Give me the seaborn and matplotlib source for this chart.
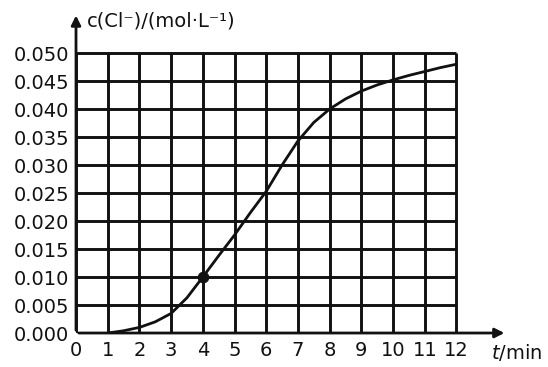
import numpy as np
import pandas as pd
import matplotlib
matplotlib.use("Agg")
import matplotlib.pyplot as plt
import seaborn as sns

# values
t_min = [1, 1.5, 2, 2.5, 3, 3.5, 4, 4.5, 5, 5.5, 6, 6.5, 7, 7.5, 8, 8.5, 9, 9.5, 10, 10.5, 11, 11.5, 12]
c_cl = [0.0, 0.0004, 0.001, 0.002, 0.0035, 0.0063, 0.010, 0.0138, 0.0175, 0.0215, 0.0253, 0.030, 0.0343,
        0.0376, 0.040, 0.0418, 0.0432, 0.0443, 0.0452, 0.046, 0.0467, 0.0474, 0.048]
dot_t = [4]
dot_c = [0.010]
x_ticks = list(range(13))
y_ticks = [0.000, 0.005, 0.010, 0.015, 0.020, 0.025, 0.030, 0.035, 0.040, 0.045, 0.050]

curve = pd.DataFrame({"t": t_min, "c": c_cl})
dot = pd.DataFrame({"t": dot_t, "c": dot_c})

sns.set_style("white")
plt.rcParams['font.family'] = ['DejaVu Sans']

fig = plt.figure(figsize=(5.48, 3.67), dpi=100)
ax = fig.add_axes([0.1387, 0.0926, 0.81, 0.9003])
ax.set_xlim(0, 14)
ax.set_ylim(0, 0.059)

ink = "#111111"
# grid drawn only inside the 0-12 / 0-0.05 box
ax.vlines(x_ticks, 0, y_ticks[-1], color=ink, lw=2.1, zorder=2)
ax.hlines(y_ticks, 0, x_ticks[-1], color=ink, lw=2.1, zorder=2)

# axis arrows
ax.annotate("", xy=(0, 0.0572), xytext=(0, 0), annotation_clip=False,
            arrowprops=dict(arrowstyle="-|>", color=ink, lw=2.0, mutation_scale=14), zorder=3)
ax.annotate("", xy=(13.6, 0), xytext=(0, 0), annotation_clip=False,
            arrowprops=dict(arrowstyle="-|>", color=ink, lw=2.0, mutation_scale=14), zorder=3)

sns.lineplot(data=curve, x="t", y="c", ax=ax, color=ink, lw=2.0, zorder=4)
sns.scatterplot(data=dot, x="t", y="c", ax=ax, color=ink, s=60, zorder=5, edgecolor=ink)

for s in ax.spines.values():
    s.set_visible(False)
ax.set_xticks(x_ticks)
ax.set_xticklabels([str(v) for v in x_ticks], fontsize=14)
ax.set_yticks(y_ticks)
ax.set_yticklabels([f"{v:.3f}" for v in y_ticks], fontsize=14)
ax.tick_params(axis="both", length=0, colors=ink)
ax.tick_params(axis="x", pad=6)
ax.tick_params(axis="y", pad=5)
ax.set_xlabel("")
ax.set_ylabel("")

ax.text(0.35, 0.0558, "c(Cl⁻)/(mol·L⁻¹)", fontsize=14, color=ink, ha="left", va="center")
ax.text(13.9, -0.0034, "$t$/min", fontsize=14, color=ink, ha="center", va="center", clip_on=False)

fig.savefig("out.png", dpi=100)
